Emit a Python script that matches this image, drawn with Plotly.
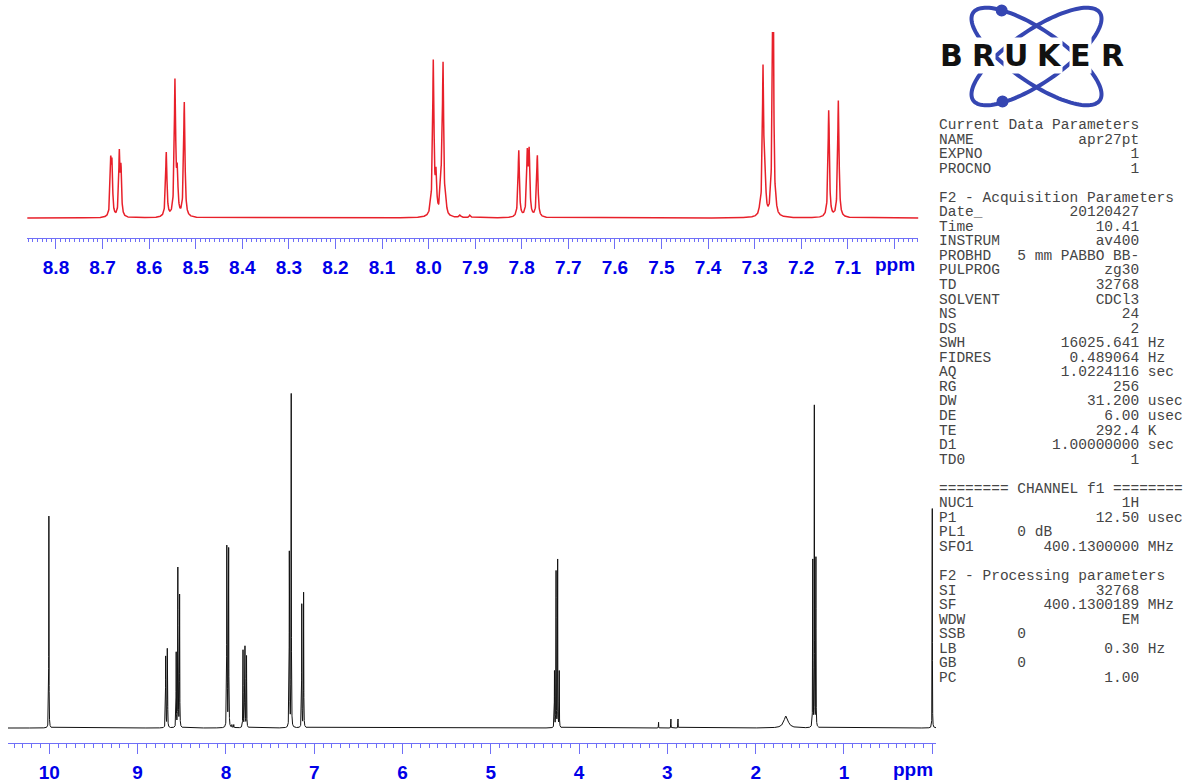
import numpy as np
import plotly.graph_objects as go

W, H = 1185, 782

# ---------------- 1H peak list (CDCl3, 400 MHz) ----------------
# chemical shift (ppm), peak height (expansion units), half width at half height (ppm)
peak_ppm = [10.005,
            8.6825, 8.6797, 8.6640, 8.6605,
            8.5632, 8.5445, 8.5396, 8.5245,
            7.9955, 7.9898, 7.9840, 7.9733, 7.9690, 7.9626, 7.9325, 7.9110,
            7.8064, 7.7880, 7.7840, 7.7665,
            7.2883, 7.2818, 7.2770, 7.2647, 7.2604, 7.2540,
            7.1408, 7.1201,
            4.279, 4.261, 4.243, 4.225,
            3.10, 2.96, 2.88,
            1.657,
            1.354, 1.336, 1.318,
            0.000]
peak_int = [183.5,
            62, 60, 69, 55,
            66, 140, 55, 116,
            21, 159, 51, 50, 157, 19, 3, 3,
            68, 70, 71, 63,
            18, 154, 45, 43, 291, 20,
            108, 118,
            50, 137, 147, 50,
            5, 7.8, 7.8,
            10.4,
            147, 281, 149,
            190]
peak_hwhm = [0.0015,
             0.0015, 0.0015, 0.0015, 0.0015,
             0.0017, 0.0017, 0.0017, 0.0017,
             0.0017, 0.0017, 0.0017, 0.0017, 0.0017, 0.0017, 0.0020, 0.0020,
             0.0017, 0.0017, 0.0017, 0.0017,
             0.0017, 0.0017, 0.0017, 0.0017, 0.0015, 0.0017,
             0.0017, 0.0017,
             0.0015, 0.0015, 0.0015, 0.0015,
             0.0012, 0.0012, 0.0012,
             0.028,
             0.0015, 0.0015, 0.0015,
             0.0012]

# axis ticks
top_tick_vals = [8.8, 8.7, 8.6, 8.5, 8.4, 8.3, 8.2, 8.1, 8.0, 7.9, 7.8, 7.7, 7.6, 7.5, 7.4, 7.3, 7.2, 7.1, 7.0]
top_tick_text = ["8.8", "8.7", "8.6", "8.5", "8.4", "8.3", "8.2", "8.1", "8.0", "7.9",
                 "7.8", "7.7", "7.6", "7.5", "7.4", "7.3", "7.2", "7.1", ""]
full_tick_vals = [10, 9, 8, 7, 6, 5, 4, 3, 2, 1, 0]
full_tick_text = ["10", "9", "8", "7", "6", "5", "4", "3", "2", "1", ""]

# acquisition / processing parameter block: (label, value, unit)
param_header_1 = "Current Data Parameters"
params_1 = [("NAME", "apr27pt", ""), ("EXPNO", "1", ""), ("PROCNO", "1", "")]
param_header_2 = "F2 - Acquisition Parameters"
params_2 = [("Date_", "20120427", ""), ("Time", "10.41", ""), ("INSTRUM", "av400", ""),
            ("PROBHD", "5 mm PABBO BB-", ""), ("PULPROG", "zg30", ""), ("TD", "32768", ""),
            ("SOLVENT", "CDCl3", ""), ("NS", "24", ""), ("DS", "2", ""),
            ("SWH", "16025.641", "Hz"), ("FIDRES", "0.489064", "Hz"), ("AQ", "1.0224116", "sec"),
            ("RG", "256", ""), ("DW", "31.200", "usec"), ("DE", "6.00", "usec"),
            ("TE", "292.4", "K"), ("D1", "1.00000000", "sec"), ("TD0", "1", "")]
param_header_3 = "======== CHANNEL f1 ========"
params_3 = [("NUC1", "1H", ""), ("P1", "12.50", "usec"), ("PL1", "@0 dB", ""),
            ("SFO1", "400.1300000", "MHz")]
param_header_4 = "F2 - Processing parameters"
params_4 = [("SI", "32768", ""), ("SF", "400.1300189", "MHz"), ("WDW", "EM", ""),
            ("SSB", "@0", ""), ("LB", "0.30", "Hz"), ("GB", "@0", ""), ("PC", "1.00", "")]


# ---------------- spectrum synthesis from the peak list ----------------
def lorentz(x, c, g):
    return 1.0 / (1.0 + ((x - c) / g) ** 2)


pos = np.array(peak_ppm)
hgt = np.array(peak_int, dtype=float)
wid = np.array(peak_hwhm)

# amplitudes so that the summed line shape reaches the listed heights (non-negative)
M = lorentz(pos[:, None], pos[None, :], wid[None, :])
active = np.ones(len(pos), bool)
amp = np.zeros(len(pos))
for _ in range(20):
    idx = np.where(active)[0]
    sol = np.linalg.solve(M[np.ix_(idx, idx)], hgt[idx])
    amp[:] = 0.0
    amp[idx] = sol
    if (sol >= 0).all():
        break
    active[idx[sol < 0]] = False

ppm = np.arange(-0.045, 10.475, 0.0003)
spec = np.zeros_like(ppm)
for c, g, a in zip(pos, wid, amp):
    spec += a * lorentz(ppm, c, g)
spec = np.round(spec, 3)
ppm_r = np.round(ppm, 5)

top_lo, top_hi = 6.9485, 8.8616
sel = (ppm >= top_lo - 0.001) & (ppm <= top_hi + 0.001)

# ---------------- figure ----------------
def px_x(p):
    return p / W


def px_y(p):
    return 1 - p / H


axis_blue = "#6f6ff7"
label_blue = "#0000e8"
tick_font = dict(family="Liberation Sans, Arial, Helvetica", size=19, color=label_blue, weight="bold")

fig = go.Figure()
fig.add_trace(go.Scatter(x=ppm_r[sel], y=spec[sel], mode="lines",
                         line=dict(color="#e8202a", width=1.5), xaxis="x", yaxis="y",
                         hoverinfo="skip", showlegend=False))
fig.add_trace(go.Scatter(x=ppm_r, y=spec, mode="lines",
                         line=dict(color="#111111", width=1), xaxis="x2", yaxis="y2",
                         hoverinfo="skip", showlegend=False))

common_x = dict(showline=True, linecolor=axis_blue, linewidth=1, ticks="outside",
                ticklen=10, tickwidth=1, tickcolor=axis_blue, tickfont=tick_font,
                showgrid=False, zeroline=False, fixedrange=True, tickmode="array",
                ticklabelstandoff=2)

full_scale = 1.155  # px per intensity unit in the full spectrum
fig.update_layout(
    width=W, height=H, margin=dict(l=0, r=0, t=0, b=0), autosize=False,
    paper_bgcolor="white", plot_bgcolor="white",
    xaxis=dict(domain=[px_x(27.3), px_x(918.3)], range=[top_hi, top_lo], anchor="y",
               tickvals=top_tick_vals, ticktext=top_tick_text,
               minor=dict(ticks="outside", ticklen=3, tickwidth=1, tickcolor=axis_blue,
                          dtick=0.01, tick0=0, showgrid=False),
               **common_x),
    yaxis=dict(domain=[px_y(238), px_y(32)], range=[-20, 186], visible=False, fixedrange=True),
    xaxis2=dict(domain=[px_x(8), px_x(936)], range=[10.468, -0.042], anchor="y2",
                tickvals=full_tick_vals, ticktext=full_tick_text,
                minor=dict(ticks="outside", ticklen=4, tickwidth=1, tickcolor=axis_blue,
                           dtick=0.1, tick0=0, showgrid=False),
                **common_x),
    yaxis2=dict(domain=[px_y(743), px_y(383)], range=[-15 / full_scale, 345 / full_scale],
                visible=False, fixedrange=True),
)

annotations = []
# unit labels at the right end of each ppm axis
for xr, yc in ((917, 264), (935, 769)):
    annotations.append(dict(x=px_x(xr), y=px_y(yc), xref="paper", yref="paper",
                            text="ppm", showarrow=False, xanchor="right", yanchor="middle",
                            font=tick_font))


# parameter block
def fmt(label, value, unit):
    if value.startswith("@"):
        line = label.ljust(9) + value[1:]
    else:
        line = label + value.rjust(23 - len(label))
        if unit:
            line += " " + unit
    return line


lines = [param_header_1] + [fmt(*p) for p in params_1] + [None] \
    + [param_header_2] + [fmt(*p) for p in params_2] + [None] \
    + [param_header_3] + [fmt(*p) for p in params_3] + [None] \
    + [param_header_4] + [fmt(*p) for p in params_4]

mono = dict(family="Courier New, Nimbus Mono PS, FreeMono, Liberation Mono, monospace",
            size=14.5, color="#454545")
for i, line in enumerate(lines):
    if line is None:
        continue
    annotations.append(dict(x=px_x(937), y=px_y(125 + 14.55 * i), xref="paper", yref="paper",
                            text=line.replace(" ", "\u00a0"), showarrow=False,
                            xanchor="left", yanchor="middle", font=mono))

# logo: two crossed orbits, two electrons, lettering
shapes = []
logo_blue = "#3546b2"
cx, cy, a_ax, b_ax = 1036.5, 56.5, 77.0, 26.0
t = np.linspace(0, 2 * np.pi, 121)
for ang in (np.deg2rad(34.7), np.deg2rad(-34.7)):
    u, v = a_ax * np.cos(t), b_ax * np.sin(t)
    X = cx + u * np.cos(ang) - v * np.sin(ang)
    Y = cy + u * np.sin(ang) + v * np.cos(ang)
    path = "M " + " L ".join(f"{px_x(x):.5f},{px_y(y):.5f}" for x, y in zip(X, Y)) + " Z"
    shapes.append(dict(type="path", path=path, xref="paper", yref="paper",
                       line=dict(color=logo_blue, width=4)))
for ex, ey in ((1001.7, 10.5), (1002.5, 101.5)):
    r = 6.0
    shapes.append(dict(type="circle", xref="paper", yref="paper",
                       x0=px_x(ex - r), x1=px_x(ex + r), y0=px_y(ey + r), y1=px_y(ey - r),
                       fillcolor=logo_blue, line=dict(color=logo_blue, width=0)))

for letter, lx in zip("BRUKER", (951.7, 983, 1016, 1049, 1080, 1112.5)):
    annotations.append(dict(x=px_x(lx), y=px_y(55.5), xref="paper", yref="paper",
                            text=letter, showarrow=False, xanchor="center", yanchor="middle",
                            bgcolor="white", borderpad=0,
                            font=dict(family="DejaVu Sans, Liberation Sans", size=30,
                                      color="#111111", weight="bold")))

fig.update_layout(annotations=annotations, shapes=shapes)
fig.write_html("out.html")
